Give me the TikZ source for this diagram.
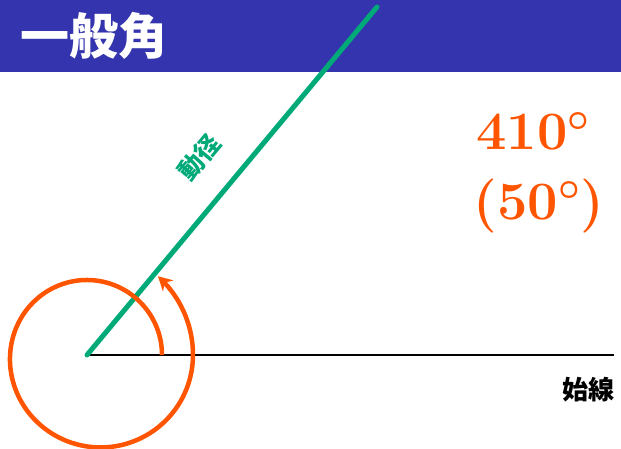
\RequirePackage{fix-cm}
\documentclass[tikz,border=0pt]{standalone}
\usepackage{fontspec}
\newfontfamily\jpfont{Noto Sans CJK JP}
\usetikzlibrary{arrows.meta}
\definecolor{bannerblue}{RGB}{52,52,175}
\definecolor{raygreen}{RGB}{0,170,120}
\definecolor{angleorange}{RGB}{255,85,0}
\tikzset{%
  >={Stealth[width=15pt,length=14pt]},
  % Specifications for style of nodes and lines:
       banner/.style = {fill=bannerblue, draw=none},
        title/.style = {text=white, font=\jpfont\bfseries\fontsize{49}{52}\selectfont},
          ray/.style = {draw=raygreen, line width=5pt, line cap=round},
      initial/.style = {draw=black, line width=1.8pt},
       spiral/.style = {draw=angleorange, line width=4.5pt},
     raylabel/.style = {text=raygreen, font=\jpfont\bfseries\fontsize{25}{28}\selectfont},
    linelabel/.style = {text=black, font=\jpfont\bfseries\fontsize{26}{30}\selectfont},
   anglelabel/.style = {text=angleorange, font=\fontsize{54}{60}\selectfont\boldmath},
}
\begin{document}
\begin{tikzpicture}[x=1pt, y=1pt]
  \useasboundingbox (0,0) rectangle (621,449);

  % Banner with title
  \fill[banner] (0,377) rectangle (621,449);
  \node (title) [title, anchor=west] at (17,413) {一般角};

  % Specification of points
  \coordinate (O)     at (87,94);
  \coordinate (rayEnd)  at (377,442);
  \coordinate (lineEnd) at (614,94);

  % Lines between the points
  \draw[initial] (O) -- (lineEnd);
  \draw[ray]     (O) -- (rayEnd);

  % Spiral of the angle
  \draw[spiral, ->, shift={(O)}] plot[domain=0:408, samples=160]
      ({(75+31*(sin(min(\x,360)/4))^8)*cos(\x)},
       {(75+31*(sin(min(\x,360)/4))^8)*sin(\x)});

  % Labels
  \node (rayLabel)  [raylabel, rotate=50] at (199,292) {動径};
  \node (lineLabel) [linelabel] at (588,59) {始線};
  \node (deg)       [anglelabel] at (533,318) {$410^\circ$};
  \node (degMod)    [anglelabel] at (539,243) {$(50^\circ)$};
\end{tikzpicture}
\end{document}
